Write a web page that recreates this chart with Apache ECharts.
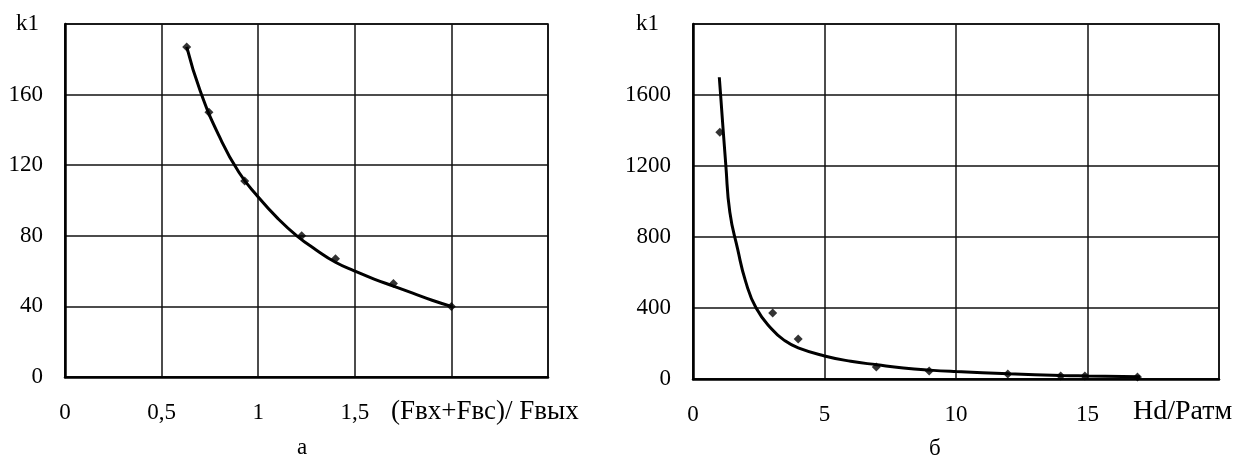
<!DOCTYPE html>
<html>
<head>
<meta charset="utf-8">
<script src="https://cdn.jsdelivr.net/npm/echarts@6/dist/echarts.min.js"></script>
<style>html,body{margin:0;padding:0;background:#fff}#c{width:1258px;height:460px}</style>
</head>
<body>
<div id="c"></div>
<script>
// Chart а: k1 vs (Fвх+Fвс)/Fвых
const aPointsX = [0.63, 0.745, 0.93, 1.225, 1.40, 1.70, 2.0];
const aPointsY = [187, 150, 111, 80, 67, 53, 40];
const aCurveX = [0.63, 0.7, 0.8, 0.9, 1.0, 1.1, 1.2, 1.3, 1.4, 1.5, 1.6, 1.7, 1.8, 1.9, 2.0];
const aCurveY = [187, 162, 136, 116, 102, 90, 80, 72, 65, 60, 55.5, 51.5, 47.5, 43.5, 40];
const aXTicks = [0, 0.5, 1, 1.5];
const aYTicks = [0, 40, 80, 120, 160];

// Chart б: k1 vs Hd/Pатм
const bPointsX = [1.02, 3.03, 4.0, 6.97, 8.98, 11.97, 13.98, 14.9, 16.9];
const bPointsY = [1390, 372, 225, 68, 45, 28, 17, 17, 11];
const bCurveX = [1.0, 1.05, 1.25, 1.4, 1.7, 2.0, 2.4, 3.0, 3.5, 4.0, 5.0, 6.0, 7.0, 8.0, 9.0, 10.0, 12.0, 14.0, 15.0, 17.0];
const bCurveY = [1700, 1600, 1200, 940, 730, 550, 400, 280, 215, 175, 130, 100, 80, 62, 50, 42, 30, 20, 17, 12];
const bXTicks = [0, 5, 10, 15];
const bYTicks = [0, 400, 800, 1200, 1600];

const FONT = 'Liberation Serif';
const FS = 23;

function pairs(xs, ys) { return xs.map((x, i) => [x, ys[i]]); }

const gridLine = { show: true, lineStyle: { color: '#111', width: 1.5 } };
const axisLine = { show: true, lineStyle: { color: '#000', width: 2.5 } };

function xAxis(idx, max, interval, ticks) {
  return {
    type: 'value', gridIndex: idx, min: 0, max: max, interval: interval,
    axisLine: axisLine, axisTick: { show: false }, splitLine: gridLine,
    axisLabel: {
      margin: 24, color: '#000', fontFamily: FONT, fontSize: FS,
      formatter: v => ticks.includes(v) ? String(v).replace('.', ',') : ''
    }
  };
}
function yAxis(idx, max, interval, ticks, kPad) {
  return {
    type: 'value', gridIndex: idx, min: 0, max: max, interval: interval,
    axisLine: axisLine, axisTick: { show: false }, splitLine: gridLine,
    axisLabel: {
      margin: 22, color: '#000', fontFamily: FONT, fontSize: FS,
      formatter: v => v === max ? '{k|k1}' : (ticks.includes(v) ? String(v) : ''),
      rich: { k: { fontFamily: FONT, fontSize: FS, color: '#000', padding: [0, kPad, 0, 0] } }
    }
  };
}

const chart = echarts.init(document.getElementById('c'), null, { renderer: 'canvas' });
chart.setOption({
  animation: false,
  backgroundColor: '#fff',
  grid: [
    { left: 65, right: 710, top: 24, bottom: 83, show: true, borderColor: '#000', borderWidth: 1.5, containLabel: false },
    { left: 693, right: 39, top: 24, bottom: 81, show: true, borderColor: '#000', borderWidth: 1.5, containLabel: false }
  ],
  xAxis: [xAxis(0, 2.5, 0.5, aXTicks), xAxis(1, 20, 5, bXTicks)],
  yAxis: [yAxis(0, 200, 40, aYTicks, 4), yAxis(1, 2000, 400, bYTicks, 12)],
  series: [
    { type: 'line', xAxisIndex: 0, yAxisIndex: 0, data: pairs(aCurveX, aCurveY), smooth: true, showSymbol: false, lineStyle: { color: '#000', width: 3 }, z: 3 },
    { type: 'scatter', xAxisIndex: 0, yAxisIndex: 0, data: pairs(aPointsX, aPointsY), symbol: 'diamond', symbolSize: 9, itemStyle: { color: '#000' }, z: 4 },
    { type: 'line', xAxisIndex: 1, yAxisIndex: 1, data: pairs(bCurveX, bCurveY), smooth: true, showSymbol: false, lineStyle: { color: '#000', width: 3 }, z: 3 },
    { type: 'scatter', xAxisIndex: 1, yAxisIndex: 1, data: pairs(bPointsX, bPointsY), symbol: 'diamond', symbolSize: 9, itemStyle: { color: '#000' }, z: 4 }
  ],
  graphic: [
    { type: 'text', left: 391, top: 398, style: { text: '(Fвх+Fвс)/ Fвых', font: '27px "' + FONT + '"', fill: '#000' } },
    { type: 'text', left: 1133, top: 398, style: { text: 'Hd/Pатм', font: '28px "' + FONT + '"', fill: '#000' } },
    { type: 'text', left: 297, top: 436, style: { text: 'а', font: FS + 'px "' + FONT + '"', fill: '#000' } },
    { type: 'text', left: 929, top: 437, style: { text: 'б', font: FS + 'px "' + FONT + '"', fill: '#000' } }
  ]
});
</script>
</body>
</html>
